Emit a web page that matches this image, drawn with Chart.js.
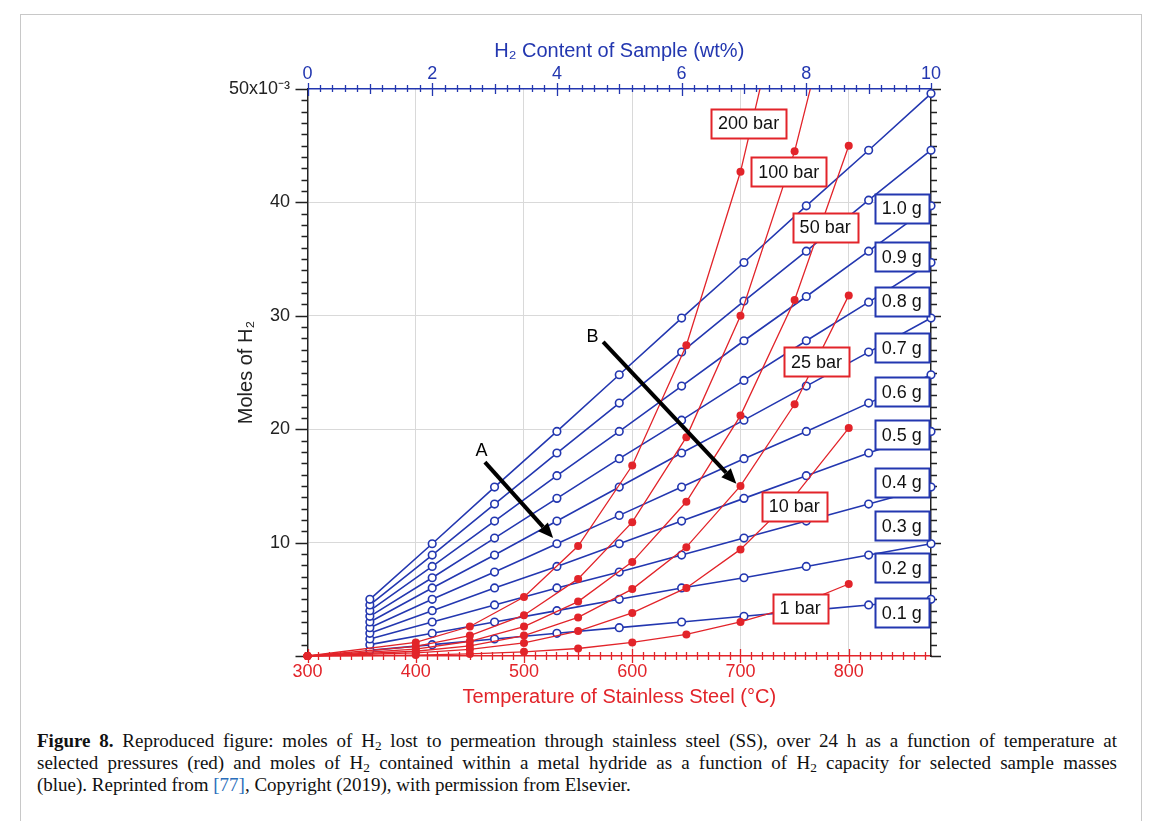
<!DOCTYPE html>
<html>
<head>
<meta charset="utf-8">
<script src="https://cdn.jsdelivr.net/npm/chart.js@4.4.1/dist/chart.umd.min.js"></script>
<style>
body { margin: 0; background: #fff; width: 1153px; height: 821px; overflow: hidden; position: relative; }
#frame { position: absolute; left: 20px; top: 14px; width: 1120px; height: 840px; border: 1px solid #c8c8c8; }
#wrap { position: absolute; left: 0; top: 0; width: 1153px; height: 720px; }
#caption { position: absolute; left: 37px; top: 730px; width: 1080px; font-family: "Liberation Serif", "Times New Roman", serif; font-size: 19px; line-height: 22px; color: #111; }
#caption .ln { height: 22px; white-space: nowrap; }
#caption .j { text-align: justify; text-align-last: justify; white-space: normal; }
#caption sub { font-size: 0.7em; vertical-align: -0.25em; line-height: 0; }
#caption .ref { color: #2a6ebb; }
</style>
</head>
<body>
<div id="frame"></div>
<div id="wrap"><canvas id="chart" width="1153" height="720"></canvas></div>
<div id="caption">
<div class="ln j"><b>Figure 8.</b> Reproduced figure: moles of H<sub>2</sub> lost to permeation through stainless steel (SS), over 24 h as a function of temperature at</div>
<div class="ln j">selected pressures (red) and moles of H<sub>2</sub> contained within a metal hydride as a function of H<sub>2</sub> capacity for selected sample masses</div>
<div class="ln">(blue). Reprinted from <span class="ref">[77]</span>, Copyright (2019), with permission from Elsevier.</div>
</div>
<script>
// temperature series (bottom axis, °C) - moles x 10^-3
const temps = [300, 400, 450, 500, 550, 600, 650, 700, 750, 800];
const bar200 = [0, 1.2, 2.6, 5.2, 9.7, 16.8, 27.4, 42.7, 63, 90];
const bar100 = [0, 0.85, 1.8, 3.6, 6.8, 11.8, 19.3, 30.0, 44.5, 63.5];
const bar50 = [0, 0.6, 1.3, 2.6, 4.8, 8.3, 13.6, 21.2, 31.4, 45.0];
const bar25 = [0, 0.42, 0.9, 1.8, 3.4, 5.9, 9.6, 15.0, 22.2, 31.8];
const bar10 = [0, 0.27, 0.58, 1.15, 2.2, 3.8, 6.0, 9.4, 14.1, 20.1];
const bar1 = [0, 0.08, 0.18, 0.37, 0.66, 1.2, 1.9, 3.0, 4.4, 6.35];

// hydride series (top axis, wt%)
const wtPct = [1, 2, 3, 4, 5, 6, 7, 8, 9, 10];
const g10 = [5.0, 9.9, 14.9, 19.8, 24.8, 29.8, 34.7, 39.7, 44.6, 49.6];
const g09 = [4.5, 8.9, 13.4, 17.9, 22.3, 26.8, 31.3, 35.7, 40.2, 44.6];
const g08 = [4.0, 7.9, 11.9, 15.9, 19.8, 23.8, 27.8, 31.7, 35.7, 39.7];
const g07 = [3.5, 6.9, 10.4, 13.9, 17.4, 20.8, 24.3, 27.8, 31.2, 34.7];
const g06 = [3.0, 6.0, 8.9, 11.9, 14.9, 17.9, 20.8, 23.8, 26.8, 29.8];
const g05 = [2.5, 5.0, 7.4, 9.9, 12.4, 14.9, 17.4, 19.8, 22.3, 24.8];
const g04 = [2.0, 4.0, 6.0, 7.9, 9.9, 11.9, 13.9, 15.9, 17.9, 19.8];
const g03 = [1.5, 3.0, 4.5, 6.0, 7.4, 8.9, 10.4, 11.9, 13.4, 14.9];
const g02 = [1.0, 2.0, 3.0, 4.0, 5.0, 6.0, 6.9, 7.9, 8.9, 9.9];
const g01 = [0.5, 1.0, 1.5, 2.0, 2.5, 3.0, 3.5, 4.0, 4.5, 5.0];

const pressureNames = ['200 bar', '100 bar', '50 bar', '25 bar', '10 bar', '1 bar'];
const massNames = ['1.0 g', '0.9 g', '0.8 g', '0.7 g', '0.6 g', '0.5 g', '0.4 g', '0.3 g', '0.2 g', '0.1 g'];

// where the boxed labels and arrows sit, in data units
const pressureLabelT = [707.5, 744.5, 778.2, 770.3, 749.7, 755.1];
const pressureLabelM = [47.0, 42.7, 37.8, 25.95, 13.2, 4.2];
const massLabelW = 9.53;
const massLabelM = [39.5, 35.2, 31.3, 27.2, 23.3, 19.5, 15.3, 11.5, 7.8, 3.8];
const arrows = [
  { text: 'A', lx: 460.8, ly: 18.1, x0: 463.9, y0: 17.1, x1: 526.9, y1: 10.4 },
  { text: 'B', lx: 563.3, ly: 28.1, x0: 573.1, y0: 27.7, x1: 696.2, y1: 15.2 }
];

const RED = '#e2242a';
const BLUE = '#2337b0';
const INK = '#222';
const GRID = '#d9d9d9';
const FONT = '"Liberation Sans", Arial, sans-serif';

function pts(xs, ys) {
  return xs.map((x, i) => ({ x: x, y: ys[i] }));
}

const redSets = [bar200, bar100, bar50, bar25, bar10, bar1].map((vals, i) => ({
  label: pressureNames[i],
  data: pts(temps, vals),
  xAxisID: 'x', yAxisID: 'y',
  showLine: true,
  borderColor: RED, borderWidth: 1.3,
  pointRadius: 4, pointBackgroundColor: RED, pointBorderWidth: 0,
  clip: { left: 8, top: 0, right: 8, bottom: 8 }
}));

const blueSets = [g10, g09, g08, g07, g06, g05, g04, g03, g02, g01].map((vals, i) => ({
  label: massNames[i],
  data: pts(wtPct, vals),
  xAxisID: 'x2', yAxisID: 'y',
  showLine: true,
  borderColor: BLUE, borderWidth: 1.6,
  pointRadius: 3.8, pointBackgroundColor: '#fff', pointBorderColor: BLUE, pointBorderWidth: 1.6,
  clip: false
}));

const tickMarks = {
  id: 'tickMarks',
  beforeDatasetsDraw(chart) {
    const ctx = chart.ctx;
    const a = chart.chartArea;
    const sy = chart.scales.y, sx = chart.scales.x, sx2 = chart.scales.x2;
    ctx.save();
    ctx.lineWidth = 1.3;
    ctx.strokeStyle = INK;
    ctx.beginPath();
    for (let v = 0; v <= 50; v++) {
      const py = Math.round(sy.getPixelForValue(v)) + 0.5;
      const major = v % 10 === 0;
      ctx.moveTo(a.left, py); ctx.lineTo(a.left - (major ? 12 : 6), py);
      ctx.moveTo(a.right, py); ctx.lineTo(a.right + (major ? 10 : 6), py);
    }
    ctx.stroke();
    ctx.strokeStyle = BLUE;
    ctx.beginPath();
    for (let k = 0; k <= 50; k++) {
      const px = Math.round(sx2.getPixelForValue(k / 5)) + 0.5;
      const major = k % 10 === 0, mid = k % 5 === 0;
      ctx.moveTo(px, a.top - (major ? 6 : mid ? 5 : 4));
      ctx.lineTo(px, a.top + (major ? 7 : mid ? 5 : 3));
    }
    ctx.stroke();
    ctx.strokeStyle = RED;
    ctx.beginPath();
    for (let t = 300; t <= 870; t += 10) {
      const px = Math.round(sx.getPixelForValue(t)) + 0.5;
      const major = t % 100 === 0;
      ctx.moveTo(px, a.bottom - (major ? 7 : 4));
      ctx.lineTo(px, a.bottom + (major ? 7 : 4));
    }
    ctx.stroke();
    ctx.restore();
  }
};

function labelBox(ctx, x, y, text, color) {
  ctx.font = '18px ' + FONT;
  const w = Math.round(ctx.measureText(text).width + 14), h = 29;
  const l = Math.round(x - w / 2) + 0.5, t = Math.round(y - h / 2) + 0.5;
  ctx.fillStyle = '#fff';
  ctx.fillRect(l, t, w, h);
  ctx.lineWidth = 2;
  ctx.strokeStyle = color;
  ctx.strokeRect(l, t, w, h);
  ctx.fillStyle = '#111';
  ctx.textAlign = 'center';
  ctx.textBaseline = 'middle';
  ctx.fillText(text, x, y + 1);
}

const notes = {
  id: 'notes',
  afterDatasetsDraw(chart) {
    const ctx = chart.ctx;
    const sy = chart.scales.y, sx = chart.scales.x, sx2 = chart.scales.x2;
    ctx.save();
    arrows.forEach(ar => {
      const x0 = sx.getPixelForValue(ar.x0), y0 = sy.getPixelForValue(ar.y0);
      const x1 = sx.getPixelForValue(ar.x1), y1 = sy.getPixelForValue(ar.y1);
      const ang = Math.atan2(y1 - y0, x1 - x0);
      const hl = 15, hw = 6.5;
      const bx = x1 - hl * Math.cos(ang), by = y1 - hl * Math.sin(ang);
      ctx.strokeStyle = '#000';
      ctx.lineWidth = 4;
      ctx.beginPath();
      ctx.moveTo(x0, y0); ctx.lineTo(bx, by);
      ctx.stroke();
      ctx.fillStyle = '#000';
      ctx.beginPath();
      ctx.moveTo(x1, y1);
      ctx.lineTo(bx + hw * Math.sin(ang), by - hw * Math.cos(ang));
      ctx.lineTo(bx - hw * Math.sin(ang), by + hw * Math.cos(ang));
      ctx.closePath();
      ctx.fill();
      ctx.font = '18px ' + FONT;
      ctx.textAlign = 'center';
      ctx.textBaseline = 'middle';
      ctx.fillText(ar.text, sx.getPixelForValue(ar.lx), sy.getPixelForValue(ar.ly));
    });
    pressureNames.forEach((name, i) => {
      labelBox(ctx, sx.getPixelForValue(pressureLabelT[i]), sy.getPixelForValue(pressureLabelM[i]), name, RED);
    });
    massNames.forEach((name, i) => {
      labelBox(ctx, sx2.getPixelForValue(massLabelW), sy.getPixelForValue(massLabelM[i]), name, BLUE);
    });
    ctx.restore();
  }
};

new Chart(document.getElementById('chart'), {
  type: 'scatter',
  data: { datasets: redSets.concat(blueSets) },
  options: {
    responsive: false,
    animation: false,
    devicePixelRatio: 1,
    layout: { padding: 0 },
    plugins: { legend: { display: false }, tooltip: { enabled: false } },
    scales: {
      x: {
        type: 'linear', position: 'bottom', min: 300, max: 876,
        ticks: { stepSize: 100, includeBounds: false, color: RED, font: { family: FONT, size: 18 }, padding: 5, maxRotation: 0 },
        grid: { color: c => (c.tick && c.tick.value > 300 ? GRID : 'rgba(0,0,0,0)'), drawTicks: false },
        border: { color: RED, width: 1.5 },
        title: { display: true, text: 'Temperature of Stainless Steel (°C)', color: RED, font: { family: FONT, size: 20 }, padding: { top: 0, bottom: 10.5 } },
        afterFit: s => { s.height = 64; }
      },
      x2: {
        type: 'linear', position: 'top', min: 0, max: 10,
        ticks: { stepSize: 2, color: BLUE, font: { family: FONT, size: 18 }, padding: 4, maxRotation: 0 },
        grid: { drawOnChartArea: false, drawTicks: false },
        border: { color: BLUE, width: 1.5 },
        title: { display: true, text: 'H₂ Content of Sample (wt%)', color: BLUE, font: { family: FONT, size: 20 }, padding: { top: 39, bottom: 0 } },
        afterFit: s => { s.height = 89; }
      },
      y: {
        type: 'linear', position: 'left', min: 0, max: 50,
        ticks: {
          stepSize: 10, color: INK, font: { family: FONT, size: 18 }, padding: 17.5,
          callback: v => (v === 0 ? '' : v === 50 ? '50x10⁻³' : v)
        },
        grid: { color: c => (c.tick && c.tick.value > 0 && c.tick.value < 50 ? GRID : 'rgba(0,0,0,0)'), drawTicks: false },
        border: { color: INK, width: 1.5 },
        title: { display: true, text: 'Moles of H₂', color: INK, font: { family: FONT, size: 20 }, padding: { top: 234, bottom: 0 } },
        afterFit: s => { s.width = 307.5; }
      },
      y2: {
        type: 'linear', position: 'right', min: 0, max: 50,
        ticks: { display: false },
        grid: { drawOnChartArea: false, drawTicks: false },
        border: { color: INK, width: 1.5 },
        afterFit: s => { s.width = 222; }
      }
    }
  },
  plugins: [tickMarks, notes]
});
</script>
</body>
</html>
